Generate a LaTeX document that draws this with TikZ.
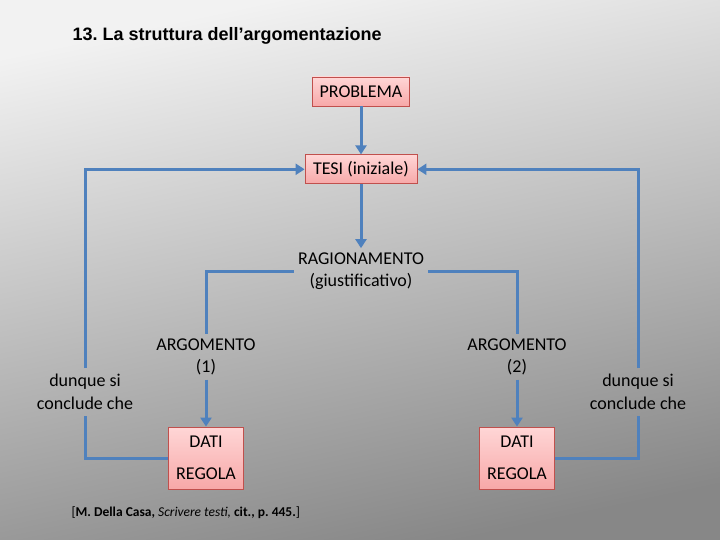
\documentclass[tikz,border=0pt]{standalone}
\usepackage{fontspec}
\setmainfont{Carlito}
\newfontfamily\titlefont{Liberation Sans}
\usetikzlibrary{arrows.meta,positioning}
\definecolor{linkblue}{HTML}{4F81BD}
\definecolor{boxred}{HTML}{C0504D}
\definecolor{boxtop}{HTML}{FFD6D6}
\definecolor{boxbot}{HTML}{F7A8A8}
\frenchspacing

\begin{document}
\begin{tikzpicture}[
    x=1pt, y=-1pt,
    stepbox/.style={draw=boxred, line width=0.8pt, top color=boxtop,
                    bottom color=boxbot, font=\fontsize{18}{22}\selectfont,
                    align=center, inner sep=2pt},
    plainlbl/.style={font=\fontsize{18}{22.5}\selectfont, align=center,
                     inner sep=4pt},
    arr/.style={-{Triangle[length=9pt,width=11pt]}, line width=3pt, linkblue},
    link/.style={line width=3pt, linkblue},
  ]
    % Slide background
    \fill[top color=black!5, bottom color=black!47, shading angle=12]
      (0,0) rectangle (720,540);
    \useasboundingbox (0,0) rectangle (720,540);

    % Title
    \node[anchor=west, font=\titlefont\bfseries\fontsize{18}{22}\selectfont]
      (title) at (69,36) {13. La struttura dell’argomentazione};

    % Central chain
    \node[stepbox, minimum width=97pt, minimum height=29pt] (problema)
      at (361,91.5) {PROBLEMA};
    \node[stepbox, minimum width=112pt, minimum height=29pt,
          below=48pt of problema] (tesi) {TESI (iniziale)};
    \node[plainlbl] (ragio) at (361,271) {RAGIONAMENTO\\(giustificativo)};

    % Two arguments with their boxes
    \node[plainlbl] (arg1) at (206,357) {ARGOMENTO\\(1)};
    \node[plainlbl] (arg2) at (517,357) {ARGOMENTO\\(2)};
    \node[stepbox, minimum width=75pt, minimum height=62pt] (dati1)
      at (206,458) {DATI\\[10pt]REGOLA};
    \node[stepbox, minimum width=75pt, minimum height=62pt] (dati2)
      at (517,458) {DATI\\[10pt]REGOLA};

    % Conclusions
    \node[plainlbl, inner sep=6pt] (conclL) at (85,392) {dunque si\\conclude che};
    \node[plainlbl, inner sep=6pt] (conclR) at (638,392) {dunque si\\conclude che};

    % Source
    \node[anchor=west, font=\fontsize{13.5}{16}\selectfont] (fonte) at (68,513)
      {[\textbf{M. Della Casa,} \textit{Scrivere testi,} \textbf{cit., p. 445.}]};

    % Connectors
    \draw[arr] (problema) -- (tesi);
    \draw[arr] (tesi) -- (ragio);
    \draw[link] (ragio.west) -| (arg1.north);
    \draw[link] (ragio.east) -| (arg2.north);
    \draw[arr] (arg1) -- (dati1);
    \draw[arr] (arg2) -- (dati2);
    \draw[link] (dati1.west) -| (conclL.south);
    \draw[link] (dati2.east) -| (conclR.south);
    \draw[arr] (conclL.north) |- (tesi.west);
    \draw[arr] (conclR.north) |- (tesi.east);
  \end{tikzpicture}
\end{document}
